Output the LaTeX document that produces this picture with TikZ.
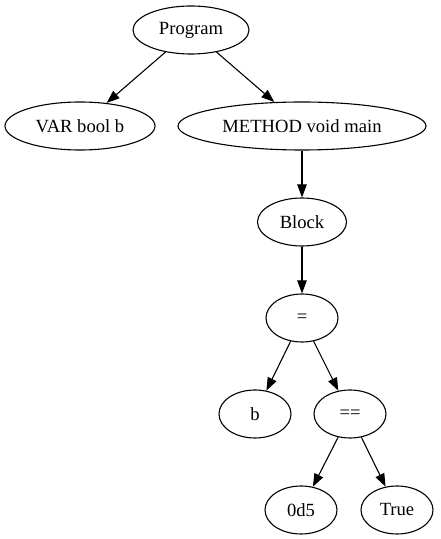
\documentclass[tikz,border=0pt]{standalone}
\usepackage{fontspec}
\setmainfont{Liberation Serif}
\usetikzlibrary{shapes.geometric,arrows.meta}
\begin{document}
\begin{tikzpicture}[x=1pt,y=1pt,
  nd/.style={draw=black,line width=1.1pt,ellipse,inner sep=0pt,minimum height=48pt,
    font=\fontsize{18.6}{22}\selectfont},
  edge/.style={draw=black,line width=1.1pt,-{Triangle[length=13pt,width=9.5pt]}}]
\useasboundingbox (0,0) rectangle (441,539);
\node[nd,minimum width=116pt] (prog) at (191,509) {Program};
\node[nd,minimum width=150pt] (var) at (80,413) {VAR bool b};
\node[nd,minimum width=248pt] (meth) at (302,413) {METHOD void main};
\node[nd,minimum width=89pt] (block) at (302,317) {Block};
\node[nd,minimum width=72pt] (assign) at (302,221) {=};
\node[nd,minimum width=72pt] (b) at (255,125) {b};
\node[nd,minimum width=72pt] (eq) at (350,125) {==};
\node[nd,minimum width=72pt] (odf) at (301,29) {0d5};
\node[nd,minimum width=72pt] (tru) at (397,29) {True};
\draw[edge] (prog) -- (var);
\draw[edge] (prog) -- (meth);
\draw[edge] (meth) -- (block);
\draw[edge] (block) -- (assign);
\draw[edge] (assign) -- (b);
\draw[edge] (assign) -- (eq);
\draw[edge] (eq) -- (odf);
\draw[edge] (eq) -- (tru);
\end{tikzpicture}
\end{document}
